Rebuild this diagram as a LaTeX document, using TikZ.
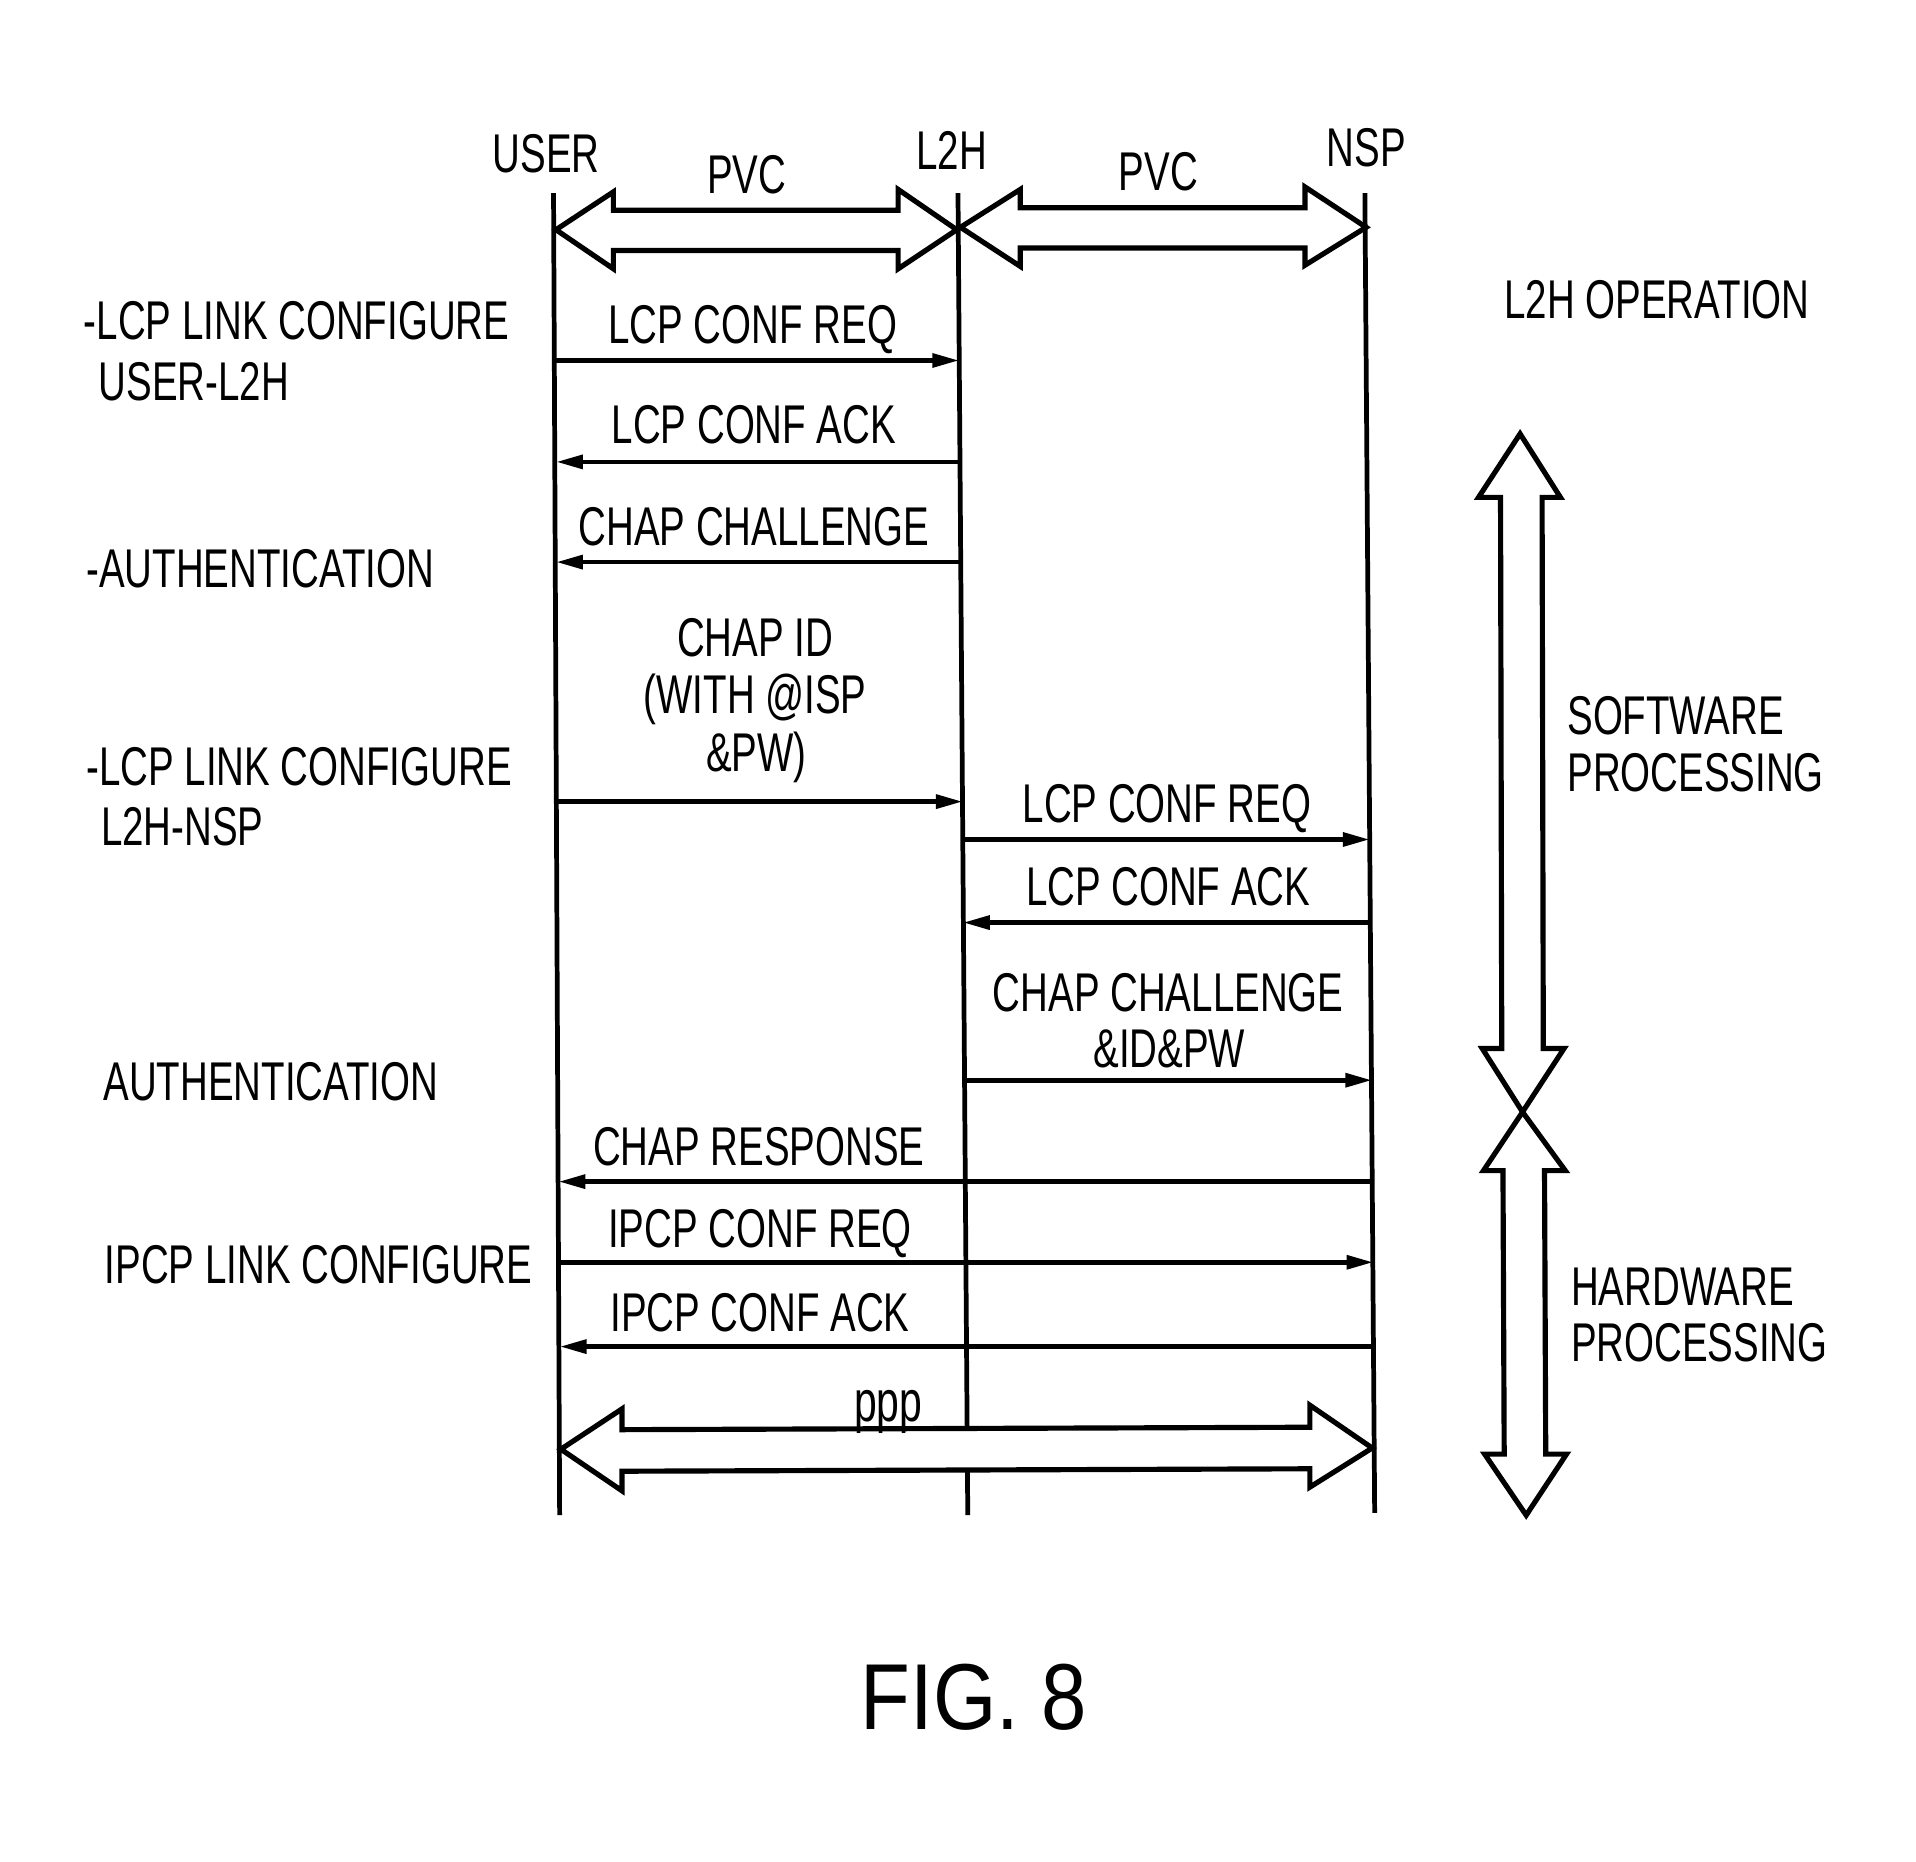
\documentclass[tikz,border=0pt]{standalone}
\usepackage{fontspec}
\setmainfont[FakeStretch=0.705]{Liberation Sans}
\newfontfamily\figfont[FakeStretch=0.87]{Liberation Sans}
\usetikzlibrary{arrows.meta}
\begin{document}
\begin{tikzpicture}[x=0.01cm,y=-0.01cm,
  lbl/.style={inner sep=0pt, anchor=base, font=\fontsize{12.7}{14}\selectfont},
  lft/.style={lbl, anchor=base west},
  msg/.style={line width=1.1pt, -{Triangle[length=2.2mm,width=1.1mm]}},
  life/.style={line width=1.1pt},
  hollow/.style={draw, fill=white, line width=1.2pt, line join=miter}]
\useasboundingbox[fill=white] (0,0) rectangle (1568,1523);

% lifelines
\coordinate (ut) at (453,158); \coordinate (ub) at (458,1240);
\coordinate (lt) at (784,158); \coordinate (lb) at (792,1240);
\coordinate (nt) at (1117,158); \coordinate (nb) at (1125,1238);
\draw[life] (ut) -- (ub);
\draw[life] (lt) -- (lb);
\draw[life] (nt) -- (nb);

% headers
\node[lbl] (huser) at (447,141) {USER};
\node[lbl] (hl2h) at (779,139) {L2H};
\node[lbl] (hnsp) at (1118,136) {NSP};
\node[lbl] (pvc1) at (611,158) {PVC};
\node[lbl] (pvc2) at (948,156) {PVC};

% PVC arrows
\draw[hollow] (455,188) -- (502,157) -- (502,172) -- (735,172) -- (735,155) -- (783,188)
  -- (735,220) -- (735,205) -- (502,205) -- (502,220) -- cycle;
\draw[hollow] (786,186) -- (835,155) -- (835,170) -- (1068,170) -- (1068,153) -- (1118,186)
  -- (1068,217) -- (1068,203) -- (835,203) -- (835,218) -- cycle;

% messages
\node[lbl] (t1) at (616,281) {LCP CONF REQ};
\coordinate (m1a) at (454,295); \coordinate (m1b) at (785,295);
\draw[msg] (m1a) -- (m1b);

\node[lbl] (t2) at (617,363) {LCP CONF ACK};
\coordinate (m2a) at (786,378); \coordinate (m2b) at (455,378);
\draw[msg] (m2a) -- (m2b);

\node[lbl] (t3) at (617,446) {CHAP CHALLENGE};
\coordinate (m3a) at (786,460); \coordinate (m3b) at (455,460);
\draw[msg] (m3a) -- (m3b);

\node[lbl] (t4a) at (618,537) {CHAP ID};
\node[lbl] (t4b) at (618,584) {(WITH @ISP};
\node[lbl] (t4c) at (619,631) {\&PW)};
\coordinate (m4a) at (456,656); \coordinate (m4b) at (788,656);
\draw[msg] (m4a) -- (m4b);

\node[lbl] (t5) at (955,673) {LCP CONF REQ};
\coordinate (m5a) at (788,687); \coordinate (m5b) at (1121,687);
\draw[msg] (m5a) -- (m5b);

\node[lbl] (t6) at (956,741) {LCP CONF ACK};
\coordinate (m6a) at (1122,755); \coordinate (m6b) at (788,755);
\draw[msg] (m6a) -- (m6b);

\node[lbl] (t7a) at (956,828) {CHAP CHALLENGE};
\node[lbl] (t7b) at (957,874) {\&ID\&PW};
\coordinate (m7a) at (789,884); \coordinate (m7b) at (1123,884);
\draw[msg] (m7a) -- (m7b);

\node[lbl] (t8) at (621,954) {CHAP RESPONSE};
\coordinate (m8a) at (1123,967); \coordinate (m8b) at (457,967);
\draw[msg] (m8a) -- (m8b);

\node[lbl] (t9) at (622,1021) {IPCP CONF REQ};
\coordinate (m9a) at (458,1033); \coordinate (m9b) at (1124,1033);
\draw[msg] (m9a) -- (m9b);

\node[lbl] (t10) at (622,1090) {IPCP CONF ACK};
\coordinate (m10a) at (1124,1102); \coordinate (m10b) at (458,1102);
\draw[msg] (m10a) -- (m10b);

% ppp arrow
\draw[hollow] (459,1186) -- (509,1153) -- (509,1170) -- (1072,1168) -- (1072,1150) -- (1123,1185)
  -- (1072,1217) -- (1072,1202) -- (509,1204) -- (509,1220) -- cycle;
\node[lbl, font=\fontsize{13.5}{15}\selectfont] (tppp) at (727,1163) {ppp};

% left labels
\node[lft] (l1a) at (68,278) {-LCP LINK CONFIGURE};
\node[lft] (l1b) at (80,328) {USER-L2H};
\node[lft] (l2) at (70,481) {-AUTHENTICATION};
\node[lft] (l3a) at (70,643) {-LCP LINK CONFIGURE};
\node[lft] (l3b) at (82,692) {L2H-NSP};
\node[lft] (l4) at (84,901) {AUTHENTICATION};
\node[lft] (l5) at (85,1050) {IPCP LINK CONFIGURE};

% right side
\node[lbl] (op) at (1356,261) {L2H OPERATION};
\draw[hollow] (1244,355) -- (1277,407) -- (1262,407) -- (1263,858) -- (1280,858) -- (1246,910)
  -- (1213,858) -- (1229,858) -- (1228,407) -- (1210,407) -- cycle;
\draw[hollow] (1246,910) -- (1281,958) -- (1264,958) -- (1265,1190) -- (1282,1190) -- (1249,1240)
  -- (1215,1190) -- (1231,1190) -- (1230,958) -- (1214,958) -- cycle;
\node[lft] (sw1) at (1282,601) {SOFTWARE};
\node[lft] (sw2) at (1282,648) {PROCESSING};
\node[lft] (hw1) at (1285,1068) {HARDWARE};
\node[lft] (hw2) at (1285,1114) {PROCESSING};

% caption
\node[inner sep=0pt, anchor=base, font=\figfont\fontsize{21.8}{24}\selectfont] (fig) at (797,1415) {FIG. 8};
\end{tikzpicture}
\end{document}
